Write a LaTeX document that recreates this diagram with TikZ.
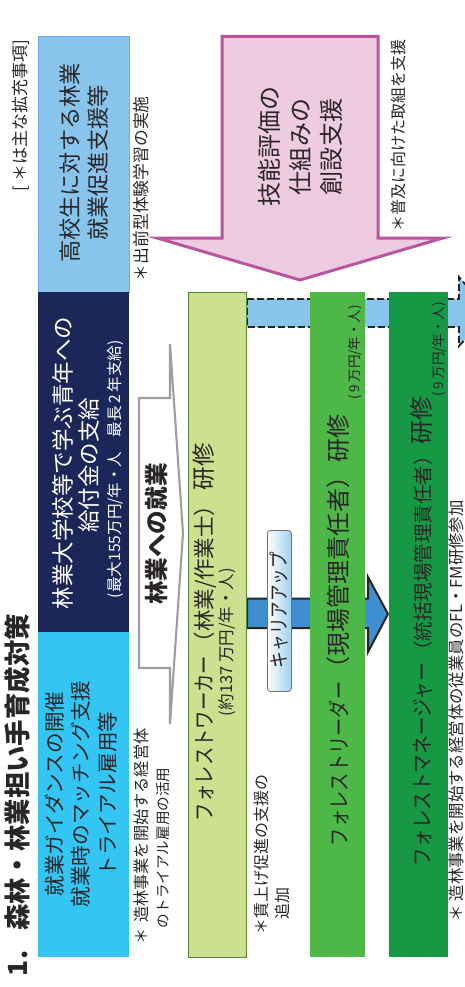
\documentclass[tikz,border=0pt]{standalone}
\usepackage{graphicx}
\usepackage{fontspec}
\setmainfont{Noto Sans CJK JP}
\usetikzlibrary{calc}
\definecolor{ink}{HTML}{2A2627}
\definecolor{skyb}{HTML}{88C4EB}
\definecolor{navyb}{HTML}{1C2759}
\definecolor{cyanb}{HTML}{33C5F4}
\definecolor{limeb}{HTML}{CDE08F}
\definecolor{midg}{HTML}{4DB848}
\definecolor{darkg}{HTML}{179845}
\definecolor{pinkf}{HTML}{EDCBE0}
\definecolor{pinks}{HTML}{B9569F}
\definecolor{arrowb}{HTML}{3E8ED0}
\newcommand{\fz}[1]{\fontsize{#1}{#1}\selectfont}
\tikzset{
  lab/.style={rotate=90,inner sep=0pt,outer sep=0pt,text=ink},
  multi/.style={lab,align=center},
}
\begin{document}
\begin{tikzpicture}[x=1pt,y=-1pt]
\useasboundingbox (0,0) rectangle (465,987);
\clip (0,0) rectangle (465,987);
\fill[white] (0,0) rectangle (465,987);

% left column boxes
\node[draw=skyb!85!blue,fill=skyb,line width=0.7pt,minimum width=91pt,minimum height=256pt,inner sep=0pt,anchor=north west] (boxhs) at (38,36) {};
\node[fill=navyb,minimum width=91pt,minimum height=340pt,inner sep=0pt,anchor=north west] (boxnavy) at (38,292) {};
\node[fill=cyanb,minimum width=91pt,minimum height=325pt,inner sep=0pt,anchor=north west] (boxcyan) at (38,632) {};

% dashed arrow
\draw[fill=skyb,draw=black!85,line width=1.8pt,dash pattern=on 7pt off 3pt]
  (247,299) -- (459,299) -- (459,277) -- (490,313) -- (459,346) -- (459,327) -- (247,327) -- cycle;

% solid career arrow
\draw[fill=arrowb,draw=black!85,line width=2pt,miter limit=6]
  (247,598.5) -- (368,598.5) -- (368,577) -- (388,614) -- (368,652) -- (368,628) -- (247,628) -- cycle;

% green bars
\node[draw=green!30!black!60!limeb,fill=limeb,line width=1pt,minimum width=58pt,minimum height=665pt,inner sep=0pt,anchor=north west] (barworker) at (188,292) {};
\node[fill=midg,minimum width=55pt,minimum height=665pt,inner sep=0pt,anchor=north west] (barleader) at (310,292) {};
\node[fill=darkg,minimum width=59pt,minimum height=665pt,inner sep=0pt,anchor=north west] (barmanager) at (389,292) {};

% pink arrow
\draw[fill=pinkf,draw=pinks,line width=3pt,miter limit=10]
  (222,36.5) -- (378,36.5) -- (378,238) -- (443,238) -- (300,280) -- (157,238) -- (222,238) -- cycle;

% gray outline arrow
\draw[fill=white,draw=black!38,line width=2.1pt,miter limit=3]
  (170,344) -- (170,398) -- (139,398) -- (139,668) -- (170,668) -- (170,724) -- (183,533) -- cycle;

% career-up tag
\node[draw=black!55,line width=0.8pt,rounded corners=3pt,left color=white,right color=skyb!80!white,minimum width=24pt,minimum height=161pt,inner sep=0pt,anchor=north west] (tagcareer) at (267,530) {};
\node[lab,font=\fz{20}] (tagtext) at (279,610) {\scalebox{0.83}[1]{キャリアアップ}};

% title
\node[lab,anchor=west,font=\fz{26.4}\bfseries] (title) at (17,976) {1.\hspace{0.75em}森林・林業担い手育成対策};
\node[lab,anchor=west,font=\fz{17}] (legend) at (21,191) {[ ＊は主な拡充事項]};

% left column text
\node[multi,font=\fz{22.2},text=ink] (tHs) at (84,163) {高校生に対する林業\\[6pt]就業促進支援等};
\node[lab,font=\fz{22.5},text=white] (tNavyA) at (63,463) {林業大学校等で学ぶ青年への};
\node[lab,font=\fz{22.5},text=white] (tNavyB) at (89,465) {給付金の支給};
\node[lab,anchor=west,font=\fz{15.6},text=white] (tNavyC) at (115,598) {(最大155万円/年・人\hspace{0.9em}最長\,2\,年支給)};
\node[multi,font=\fz{20.6}] (tCyan) at (81,794) {就業ガイダンスの開催\\[6pt]就業時のマッチング支援\\[6pt]トライアル雇用等};

% notes next to column
\node[lab,anchor=west,font=\fz{16.2}] (nA) at (141,944) {＊\hspace{0.3em}造林事業を開始する経営体};
\node[lab,anchor=west,font=\fz{14.6}] (nB) at (163,928) {のトライアル雇用の活用};
\node[lab,anchor=west,font=\fz{16.8}] (nC) at (141,281) {＊出前型体験学習の実施};
\node[lab,font=\fz{23.6}\bfseries] (tJob) at (157,534) {林業への就業};

% pink arrow text
\node[multi,font=\fz{24}] (tSkill) at (300,147) {技能評価の\\[7pt]仕組みの\\[7pt]創設支援};
\node[lab,anchor=west,font=\fz{16}] (nD) at (398,231) {＊普及に向けた取組を支援};

% worker bar
\node[lab,anchor=west,font=\fz{22}] (tWorker) at (205,821) {\scalebox{0.835}[1]{フォレストワーカー}\hspace{0.1em}{\fz{21.5}（林業/作業士）\hspace{0.2em}\fz{23.5}研修}};
\node[lab,anchor=west,font=\fz{16.5}] (tWorkerPay) at (227,716) {(約137 万円/年・人)};
\node[lab,anchor=west,font=\fz{16}] (nE) at (261,934) {＊賃上げ促進の支援の};
\node[lab,anchor=west,font=\fz{16}] (nF) at (282,919) {追加};

% leader bar
\node[lab,anchor=west,font=\fz{22}] (tLeader) at (338,846) {\scalebox{0.83}[1]{フォレストリーダー}\hspace{0.05em}{\fz{24}（現場管理責任者）\hspace{0.1em}研修}};
\node[lab,anchor=west,font=\fz{13.5}] (tLeaderPay) at (355,399) {(\,9\,万円/年・人)};

% manager bar
\node[lab,anchor=west,font=\fz{22}] (tManager) at (421,866) {\scalebox{0.845}[1]{フォレストマネージャー}\hspace{0.1em}{\fz{19.5}（統括現場管理責任者）\hspace{0.1em}\fz{24}研修}};
\node[lab,anchor=west,font=\fz{13.5}] (tManagerPay) at (439,396) {(\,9\,万円/年・人)};

% bottom-right note
\node[lab,anchor=west,font=\fz{16.4}] (nG) at (456.5,921) {＊\hspace{0.2em}造林事業を開始する経営体の従業員のFL・FM研修参加};
\end{tikzpicture}
\end{document}
